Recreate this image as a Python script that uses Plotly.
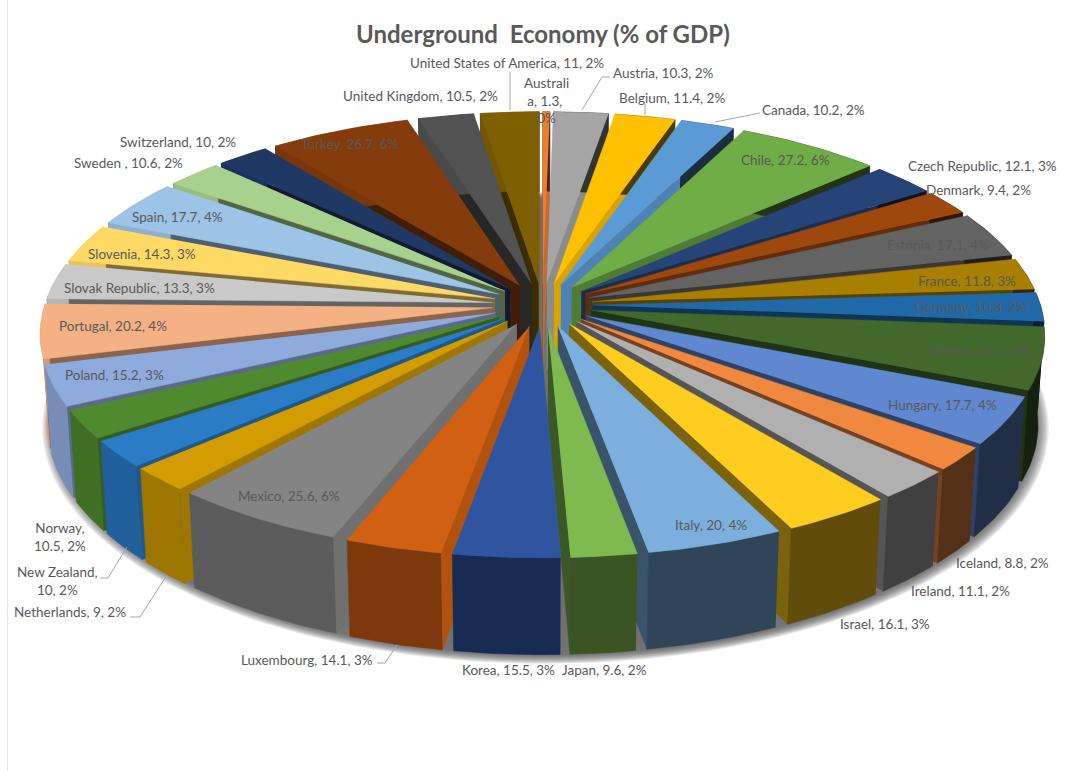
import numpy as np
import plotly.graph_objects as go

# Share of GDP per country, in chart order (clockwise from twelve o'clock)
countries = ["Australia", "Austria", "Belgium", "Canada", "Chile", "Czech Republic", "Denmark",
             "Estonia", "France", "Germany", "Greece", "Hungary", "Iceland", "Ireland", "Israel",
             "Italy", "Japan", "Korea", "Luxembourg", "Mexico", "Netherlands", "New Zealand",
             "Norway", "Poland", "Portugal", "Slovak Republic", "Slovenia", "Spain", "Sweden ",
             "Switzerland", "Turkey", "United Kingdom", "United States of America"]
values = [1.3, 10.3, 11.4, 10.2, 27.2, 12.1, 9.4, 17.1, 11.8, 10.8, 23.1, 17.7, 8.8, 11.1, 16.1,
          20, 9.6, 15.5, 14.1, 25.6, 9, 10, 10.5, 15.2, 20.2, 13.3, 14.3, 17.7, 10.6, 10, 26.7,
          10.5, 11]
colors = ["#ED7D31", "#A5A5A5", "#FFC000", "#5B9BD5", "#70AD47", "#264478", "#9E480E", "#636363",
          "#A97F00", "#1F69A8", "#43682B", "#6088D0", "#F1883F", "#B0B0B0", "#FFCD20", "#7CAFDD",
          "#7FBA50", "#2F55A0", "#D26012", "#848484", "#D39D00", "#2A7CC7", "#4F8A2F", "#8FAADC",
          "#F4B183", "#C9C9C9", "#FFD966", "#9DC3E6", "#A9D18E", "#203864", "#843C0C", "#525252",
          "#7F6000"]

title_text = "Underground  Economy (% of GDP)"
TEXT_COLOR = "#595959"

# Camera and solid proportions of the 3-D pie
CX, CY = 542.5, 305.0
FOCAL, DIST = 3351.0, 6.73
ELEV = np.radians(26.1)
HEIGHT = 0.198
EXPLODE = 0.10
RADIUS = 1.0 - EXPLODE
cam = np.array([0.0, -DIST * np.cos(ELEV), DIST * np.sin(ELEV)])


def project(px, py, pz):
    s, c = np.sin(ELEV), np.cos(ELEV)
    u = np.asarray(px, float)
    v = np.asarray(py, float) * s + np.asarray(pz, float) * c
    w = DIST + np.asarray(py, float) * c - np.asarray(pz, float) * s
    return CX + FOCAL * u / w, CY - FOCAL * v / w


def shade(hex_color, f):
    rgb = [int(hex_color[i:i + 2], 16) for i in (1, 3, 5)]
    return "rgb({},{},{})".format(*[min(255, int(round(ch * f))) for ch in rgb])


def polygon(fig, xs, ys, color, edge=True):
    fig.add_trace(go.Scatter(x=list(xs), y=list(ys), mode="lines", fill="toself", fillcolor=color,
                             line=dict(color=color if edge else "rgba(0,0,0,0)", width=0.5),
                             hoverinfo="skip", showlegend=False))


def radial_light(phi):
    return np.interp(phi % 360, [90, 115, 135, 180, 270, 360], [0.85, 0.85, 0.72, 0.5, 0.47, 0.47])


def wall_light(theta):
    return np.interp(theta % 360, [90, 130, 165, 190, 205, 235, 270, 300],
                     [0.3, 0.35, 0.4, 0.55, 0.68, 0.78, 0.9, 0.9])


fig = go.Figure()

# Soft shadow on the floor beneath the pie
t = np.radians(np.linspace(0, 360, 241))
for scale in np.linspace(1.014, 0.985, 12):
    sx, sy = project(0.006 + scale * np.sin(t), -0.008 + scale * np.cos(t), -HEIGHT - 0.005 + 0 * t)
    polygon(fig, sx, sy, "rgba(70,70,70,0.11)", edge=False)
sx, sy = project(0.006 + 0.97 * np.sin(t), -0.008 + 0.97 * np.cos(t), -HEIGHT + 0 * t)
polygon(fig, sx, sy, "rgba(110,110,110,0.6)", edge=False)

# Slice geometry follows directly from the values
total = sum(values)
edges = np.concatenate([[0.0], np.cumsum(values)]) / total * 360.0
mids = (edges[:-1] + edges[1:]) / 2.0
order = np.argsort(-np.cos(np.radians(mids)))

for i in order:
    a0, a1, mid = edges[i], edges[i + 1], mids[i]
    ox, oy = EXPLODE * np.sin(np.radians(mid)), EXPLODE * np.cos(np.radians(mid))
    arc = np.radians(np.linspace(a0, a1, max(4, int(a1 - a0) + 3)))
    ax, ay = ox + RADIUS * np.sin(arc), oy + RADIUS * np.cos(arc)

    # Radial cut faces, only the ones turned towards the camera
    for edge_deg, side in ((a0, -90.0), (a1, 90.0)):
        phi = edge_deg + side
        nx, ny = np.sin(np.radians(phi)), np.cos(np.radians(phi))
        rimx = ox + RADIUS * np.sin(np.radians(edge_deg))
        rimy = oy + RADIUS * np.cos(np.radians(edge_deg))
        if nx * (cam[0] - rimx) + ny * (cam[1] - rimy) > 0:
            fx, fy = project([ox, rimx, rimx, ox], [oy, rimy, rimy, oy], [0, 0, -HEIGHT, -HEIGHT])
            polygon(fig, fx, fy, shade(colors[i], radial_light(phi)))

    # Outer rim
    wx, wy = project(np.r_[ax, ax[::-1]], np.r_[ay, ay[::-1]],
                     np.r_[np.zeros_like(ax), -HEIGHT * np.ones_like(ax)])
    polygon(fig, wx, wy, shade(colors[i], wall_light(mid)))

    # Top face
    tx, ty = project(np.r_[ox, ax], np.r_[oy, ay], np.zeros(len(ax) + 1))
    polygon(fig, tx, ty, colors[i])

# Data labels: wrapped ones carry explicit breaks
wrapped = {"Australia": "Australi<br>a, {v}, <br>{p}%", "New Zealand": "New Zealand,<br>{v}, {p}%",
           "Norway": "Norway,<br>{v}, {p}%"}
label_place = {
    "Australia": (546, 100), "Austria": (663, 73), "Belgium": (672, 98), "Canada": (813, 110),
    "Chile": (785, 160), "Czech Republic": (982, 166), "Denmark": (978, 190), "Estonia": (938, 245),
    "France": (967, 281), "Germany": (971, 307), "Greece": (979, 350), "Hungary": (942, 405),
    "Iceland": (1002, 563), "Ireland": (960, 591), "Israel": (885, 624), "Italy": (711, 525),
    "Japan": (604, 670), "Korea": (508, 670), "Luxembourg": (307, 660), "Mexico": (289, 496),
    "Netherlands": (70, 612), "New Zealand": (57, 581), "Norway": (60, 537), "Poland": (114, 375),
    "Portugal": (113, 326), "Slovak Republic": (139, 288), "Slovenia": (142, 254), "Spain": (177, 217),
    "Sweden ": (128, 163), "Switzerland": (178, 142), "Turkey": (349, 144),
    "United Kingdom": (420, 96), "United States of America": (507, 63),
}
for name, v in zip(countries, values):
    p = round(v / total * 100)
    txt = wrapped.get(name, "{n}, {v}, {p}%").format(n=name, v=v, p=p)
    lx, ly = label_place[name]
    fig.add_annotation(x=lx, y=ly, text=txt, showarrow=False, xanchor="center", yanchor="middle",
                       font=dict(family="Lato, sans-serif", size=13.5, color=TEXT_COLOR))

# Leader lines for labels placed away from their slices
leaders = [([510, 510], [72, 110]), ([610, 602, 582], [77, 77, 110]), ([645, 645], [104, 115]),
           ([760, 715], [113, 122]), ([377, 385, 397], [663, 663, 645]),
           ([130, 140, 167], [617, 617, 575]), ([100, 108, 127], [578, 578, 547])]
for lxs, lys in leaders:
    fig.add_trace(go.Scatter(x=lxs, y=lys, mode="lines", line=dict(color="#A6A6A6", width=1),
                             hoverinfo="skip", showlegend=False))

fig.add_annotation(x=543, y=33, text=f"<b>{title_text}</b>", showarrow=False,
                   font=dict(family="Lato, sans-serif", size=24, color=TEXT_COLOR))
fig.add_shape(type="line", x0=7.5, x1=7.5, y0=0, y1=771, line=dict(color="#E4E4E4", width=1))

fig.update_layout(width=1068, height=771, margin=dict(l=0, r=0, t=0, b=0), paper_bgcolor="white",
                  plot_bgcolor="white", showlegend=False,
                  xaxis=dict(range=[0, 1068], visible=False, fixedrange=True),
                  yaxis=dict(range=[771, 0], visible=False, fixedrange=True))
fig.write_html("out.html")
